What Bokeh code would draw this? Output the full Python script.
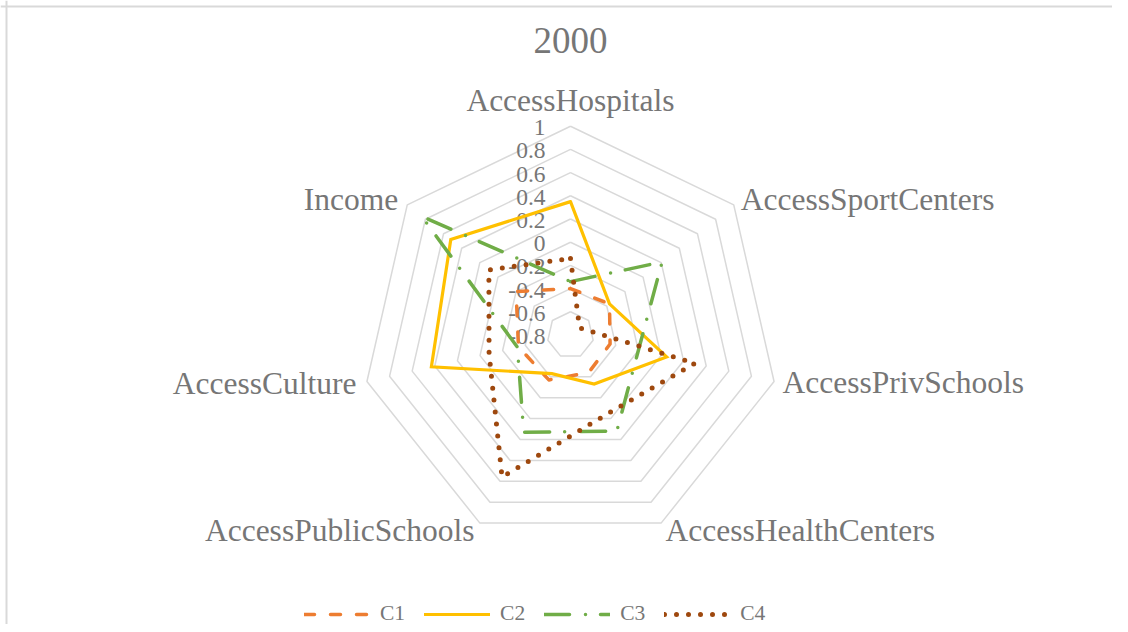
import numpy as np
from bokeh.plotting import figure
from bokeh.models import Range1d, Legend, LegendItem, ColumnDataSource, Span
from bokeh.core.properties import value
from bokeh.embed import file_html
from bokeh.resources import INLINE

# ---------------- data ----------------
chart_title = "2000"
categories = ["AccessHospitals", "AccessSportCenters", "AccessPrivSchools",
              "AccessHealthCenters", "AccessPublicSchools", "AccessCulture", "Income"]
series_names = ["C1", "C2", "C3", "C4"]
c1 = [-0.40, -0.37, -0.45, -0.44, -0.37, -0.34, -0.20]
c2 = [0.35, -0.37, 0.05, -0.33, -0.43, 0.43, 0.52]
c3 = [-0.34, 0.21, -0.20, 0.12, 0.13, -0.33, 0.84]
c4 = [-0.14, -0.70, 0.30, -0.05, 0.56, -0.08, 0.10]
tick_values = [-0.8, -0.6, -0.4, -0.2, 0.0, 0.2, 0.4, 0.6, 0.8, 1.0]
tick_labels = ["-0.8", "-0.6", "-0.4", "-0.2", "0", "0.2", "0.4", "0.6", "0.8", "1"]

# ---------------- layout / style ----------------
W, H = 1112, 624
CX, CY = 570.0, 334.5          # radar centre in figure pixels
RADIUS = 208.8                 # pixels from centre to the max value ring
VMIN, VMAX = tick_values[0], tick_values[-1]
FONT = "Liberation Serif"
TEXT_COLOR = "#767676"
GRID_COLOR = "#d9d9d9"

colors = ["#ED7D31", "#FFC000", "#70AD47", "#9E480E"]
dashes = ["10 16", "solid", "25 16 0 15", "0 12"]
widths = [3.5, 3.2, 3.5, 5.0]
caps = ["round", "round", "round", "round"]
joins = ["round", "miter", "round", "round"]

# label offsets (pixels) relative to the outer ring vertices
label_dx = [0, 7, 8.5, 4.5, -5.5, -10.5, -9]
label_dy = [26, 5, -1, -7.5, -7.5, -2, 5]
label_align = ["center", "left", "left", "left", "right", "right", "right"]

n = len(categories)
ang = np.pi / 2 - 2 * np.pi * np.arange(n) / n


def rad(v):
    return (np.asarray(v, dtype=float) - VMIN) / (VMAX - VMIN) * RADIUS


def polygon(vals):
    r = rad(vals)
    xs = list(r * np.cos(ang)) + [r[0] * np.cos(ang[0])]
    ys = list(r * np.sin(ang)) + [r[0] * np.sin(ang[0])]
    return xs, ys


p = figure(width=W, height=H, output_backend="svg", toolbar_location=None,
           x_range=Range1d(-CX, W - CX), y_range=Range1d(CY - H, CY),
           min_border=0, x_axis_type=None, y_axis_type=None)
p.grid.visible = False
p.outline_line_color = None
p.background_fill_color = "white"
p.border_fill_color = "white"

# chart-area border (top and left edges visible in the reference crop)
p.add_layout(Span(location=CY - 6, dimension="width", line_color=GRID_COLOR, line_width=2))
p.add_layout(Span(location=6 - CX, dimension="height", line_color=GRID_COLOR, line_width=2))

# grid rings
ring_xs, ring_ys = [], []
for v in tick_values[1:]:
    xs, ys = polygon([v] * n)
    ring_xs.append(xs)
    ring_ys.append(ys)
p.multi_line(ring_xs, ring_ys, line_color=GRID_COLOR, line_width=1.5)

# value axis tick labels
p.text(x=[-25] * len(tick_values), y=list(rad(tick_values) - 1.5),
       text=tick_labels, text_font=value(FONT), text_font_size="23.5px",
       text_color=TEXT_COLOR, text_align="right", text_baseline="middle")

# category labels
lx = RADIUS * np.cos(ang) + np.array(label_dx)
ly = RADIUS * np.sin(ang) + np.array(label_dy)
src = ColumnDataSource(dict(x=lx, y=ly, t=categories, a=label_align))
p.text(x="x", y="y", text="t", text_align="a", source=src, text_font=value(FONT),
       text_font_size="31.5px", text_color=TEXT_COLOR, text_baseline="middle")

# title
p.text(x=[0], y=[CY - 40], text=[chart_title], text_font=value(FONT),
       text_font_size="37px", text_color=TEXT_COLOR, text_align="center",
       text_baseline="middle")

# series
renderers = []
for name, vals, col, dsh, lw, cap, jn in zip(series_names, [c1, c2, c3, c4], colors,
                                              dashes, widths, caps, joins):
    xs, ys = polygon(vals)
    r = p.line(xs, ys, line_color=col, line_dash=dsh, line_width=lw,
               line_cap=cap, line_join=jn)
    renderers.append(r)

legend = Legend(items=[LegendItem(label=nm, renderers=[r]) for nm, r in zip(series_names, renderers)],
                orientation="horizontal", location=(304, -2), glyph_width=66, glyph_height=20,
                label_height=20, label_standoff=10, spacing=19, padding=0, margin=0,
                border_line_color=None, background_fill_alpha=0,
                label_text_font=FONT, label_text_font_size="21.5px",
                label_text_color=TEXT_COLOR)
p.add_layout(legend, "center")

open("out.html", "w").write(file_html(p, INLINE))
